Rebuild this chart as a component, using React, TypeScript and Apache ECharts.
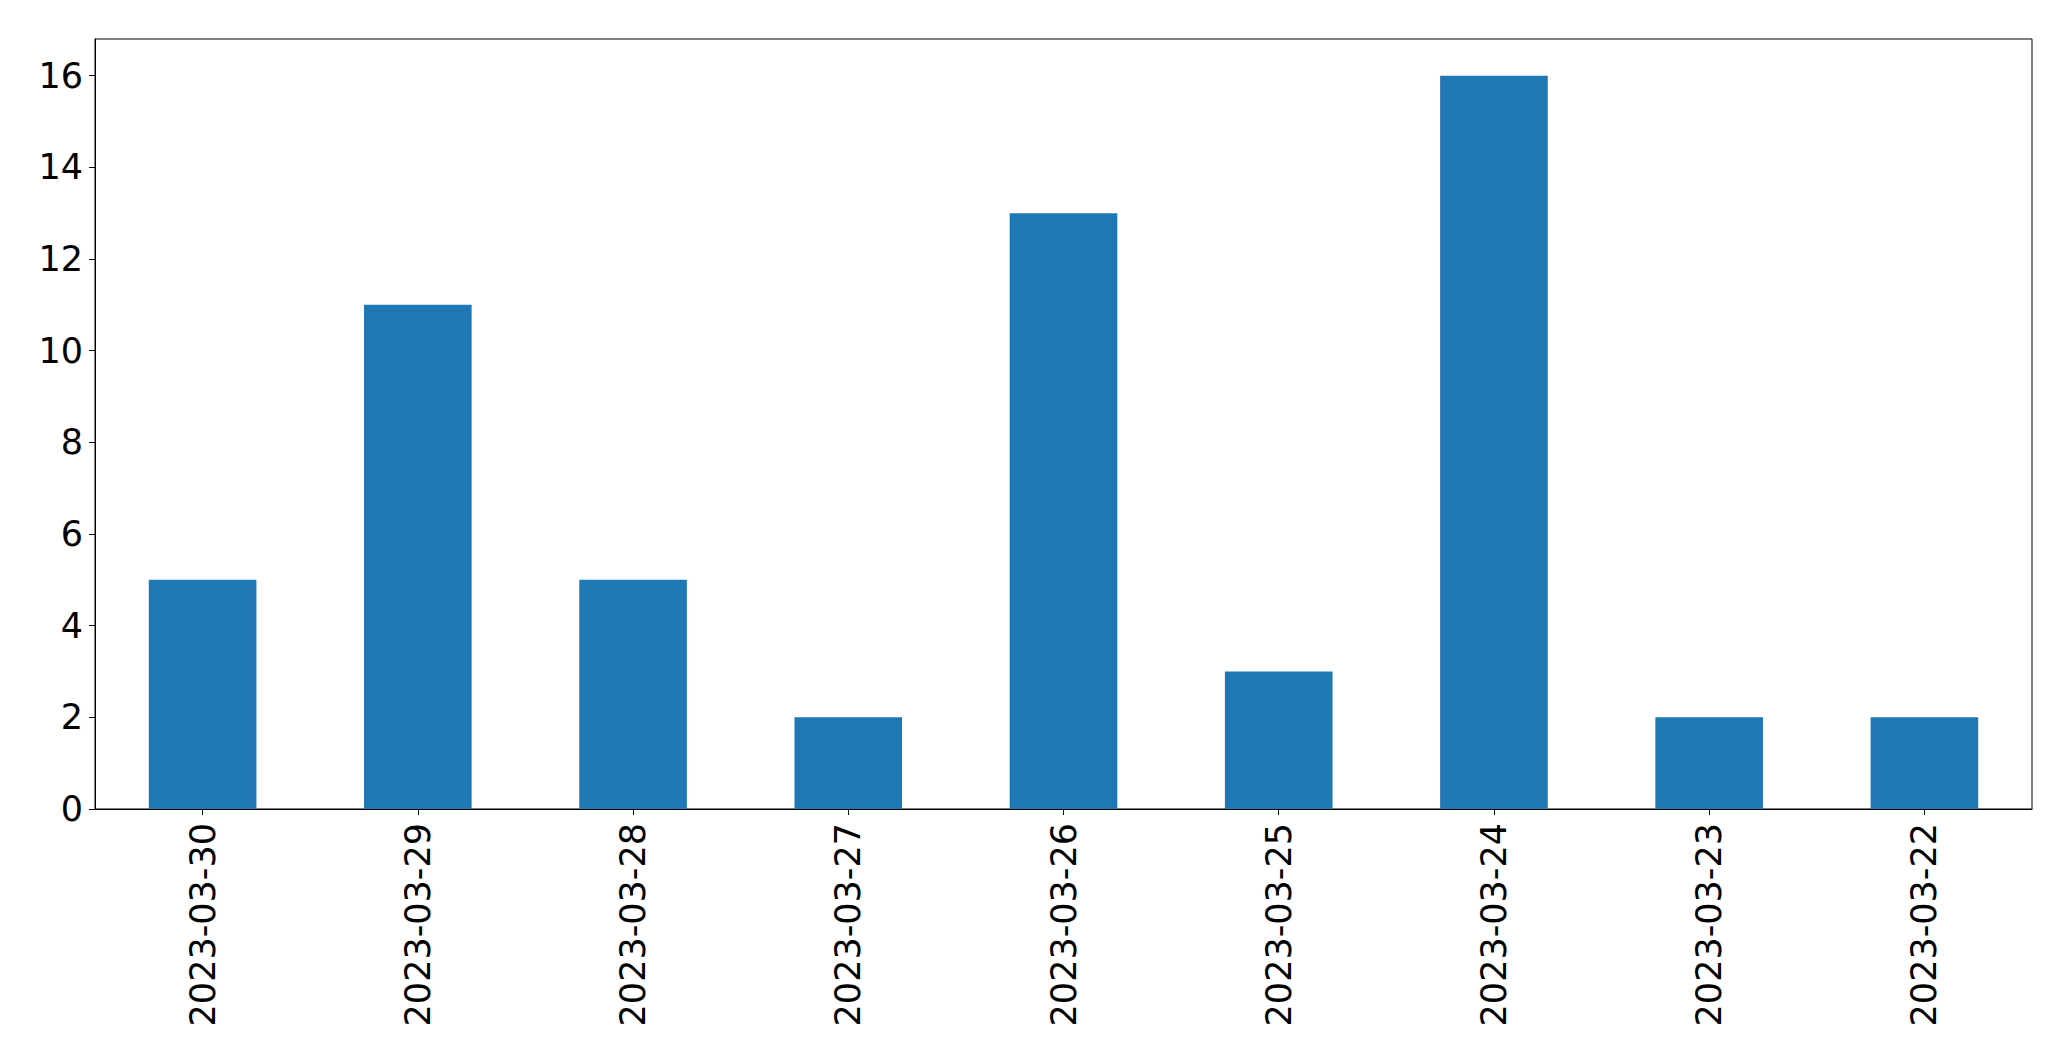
import React, { useEffect, useRef } from "react";
import * as echarts from "echarts";

const categories = [
  "2023-03-30",
  "2023-03-29",
  "2023-03-28",
  "2023-03-27",
  "2023-03-26",
  "2023-03-25",
  "2023-03-24",
  "2023-03-23",
  "2023-03-22",
];
const values = [5, 11, 5, 2, 13, 3, 16, 2, 2];
const yTicks = [0, 2, 4, 6, 8, 10, 12, 14, 16];
const yMax = 16.8;

export default function App() {
  const ref = useRef<HTMLDivElement>(null);
  useEffect(() => {
    if (!ref.current) return;
    const chart = echarts.init(ref.current, undefined, { renderer: "svg" });
    const font = "DejaVu Sans";
    chart.setOption({
      animation: false,
      backgroundColor: "#ffffff",
      textStyle: { fontFamily: font },
      grid: {
        left: 95,
        right: 39,
        top: 39,
        bottom: 252,
        show: true,
        borderColor: "#000000",
        borderWidth: 1,
        backgroundColor: "transparent",
      },
      xAxis: {
        type: "category",
        data: categories,
        boundaryGap: true,
        axisLine: { show: true, lineStyle: { color: "#000", width: 1 } },
        axisTick: {
          show: true,
          alignWithLabel: true,
          length: 6,
          lineStyle: { color: "#000", width: 1 },
        },
        axisLabel: {
          rotate: 90,
          fontSize: 35,
          color: "#000",
          fontFamily: font,
          margin: 14,
          interval: 0,
        },
        splitLine: { show: false },
      },
      yAxis: {
        type: "value",
        min: 0,
        max: yMax,
        axisLine: { show: true, lineStyle: { color: "#000", width: 1 } },
        axisTick: {
          show: true,
          length: 6,
          lineStyle: { color: "#000", width: 1 },
          customValues: yTicks,
        },
        axisLabel: {
          fontSize: 35,
          color: "#000",
          fontFamily: font,
          margin: 12,
          customValues: yTicks,
        },
        splitLine: { show: false },
      },
      series: [
        {
          type: "bar",
          data: values,
          barWidth: "50%",
          itemStyle: { color: "#1f77b4" },
        },
      ],
    });
    return () => chart.dispose();
  }, []);
  return (
    <div
      ref={ref}
      style={{ position: "fixed", left: 0, top: 0, width: 2071, height: 1061 }}
    />
  );
}
